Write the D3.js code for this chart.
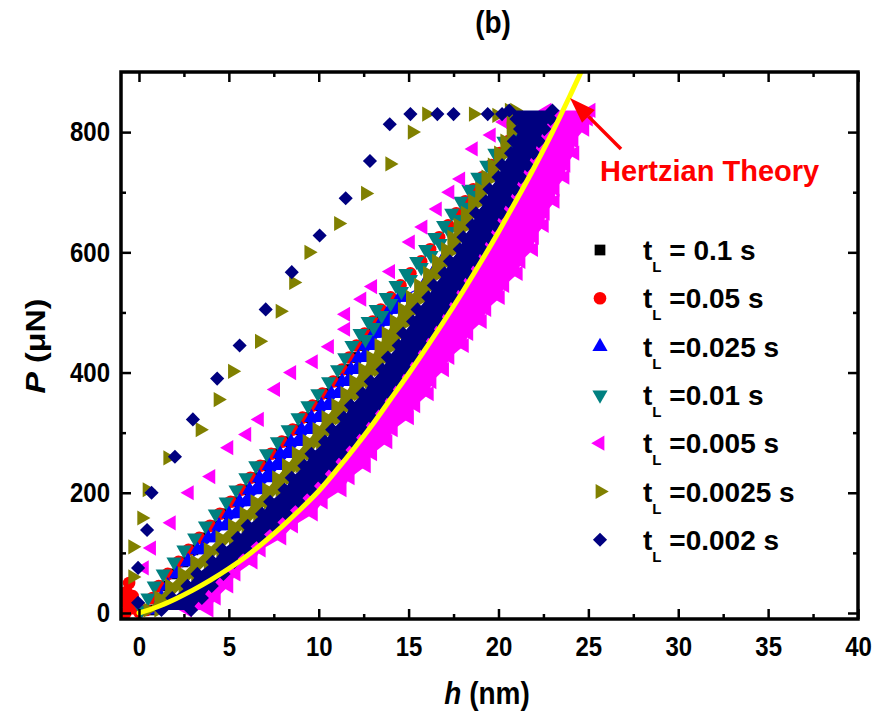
<!DOCTYPE html>
<html>
<head>
<meta charset="utf-8">
<script src="https://cdn.jsdelivr.net/npm/d3@7"></script>
<style>
  body { margin: 0; background: #fff; }
  svg { display: block; }
</style>
</head>
<body>
<svg id="chart" width="876" height="717"></svg>
<script>
// axes
const xTicks = [0, 5, 10, 15, 20, 25, 30, 35, 40];
const xMinor = [2.5, 7.5, 12.5, 17.5, 22.5, 27.5, 32.5, 37.5];
const yTicks = [0, 200, 400, 600, 800];
const yMinor = [100, 300, 500, 700];

// legend text after the "t_L"
const legendLabels = ['= 0.1 s', '=0.05 s', '=0.025 s', '=0.01 s', '=0.005 s', '=0.0025 s', '=0.002 s'];

// load levels (uN) of the dense rows
const rowP = [5, 25, 45, 65, 85, 105, 125, 145, 165, 185, 205, 225, 245, 265, 285, 305, 325, 345, 365, 385,
  405, 425, 445, 465, 485, 505, 525, 545, 565, 585, 605, 625, 645, 665, 685, 705, 725, 745, 765, 785, 805, 822, 836];

// depth h (nm) of each series at those rows
const blackFront = [0.65, 1.0, 1.35, 1.85, 2.45, 3.0, 3.6, 4.2, 4.75, 5.35, 5.9, 6.45, 7.0, 7.6, 8.2, 8.8, 9.35, 9.9,
  10.45, 11.05, 11.55, 11.95, 12.35, 12.8, 13.25];
const redFront = [0.4, 0.75, 1.1, 1.6, 2.2, 2.75, 3.35, 3.95, 4.5, 5.1, 5.65, 6.2, 6.75, 7.35, 7.95, 8.55, 9.1, 9.65,
  10.2, 10.8, 11.3, 11.7, 12.1, 12.55, 13.0, 13.45, 14.0, 14.55, 15.1, 15.7, 16.2, 16.7, 17.2, 17.65, 18.15, 18.6,
  19.1, 19.6, 20.05, 20.55, 21.0];
const blueLeft = [0.9, 1.25, 1.6, 2.1, 2.7, 3.25, 3.85, 4.45, 5.0, 5.6, 6.15, 6.7, 7.25, 7.85, 8.45, 9.05, 9.6, 10.15,
  10.7, 11.3, 11.8, 12.2, 12.6, 13.05, 13.5, 13.95, 14.5, 15.85, 16.35, 16.85, 17.35, 17.7, 18.05, 18.45, 18.85,
  19.25, 19.6, 19.95, 20.3, 20.65, 21.0];
const blueRight = [0.9, 1.25, 1.6, 2.1, 2.75, 3.5, 4.15, 4.85, 5.5, 6.1, 6.75, 7.3, 7.85, 8.4, 9.0, 9.55, 10.05, 10.6,
  11.1, 11.6, 12.1, 12.55, 13.0, 13.4, 13.85, 14.3, 14.75, 15.85, 16.35, 16.85, 17.35, 17.7, 18.05, 18.45, 18.85,
  19.25, 19.6, 19.95, 20.3, 20.65, 21.0];
const tealFront = [0.15, 0.5, 0.85, 1.35, 1.95, 2.5, 3.1, 3.7, 4.25, 4.85, 5.4, 5.95, 6.5, 7.1, 7.7, 8.3, 8.85, 9.4,
  9.95, 10.55, 11.05, 11.45, 11.85, 12.3, 12.75, 13.2, 13.75, 14.3, 14.85, 15.45, 15.95, 16.45, 16.95, 17.4, 17.9,
  18.35, 18.85, 19.35, 19.8, 20.3, 20.75];
const magentaLeft = [2.7, 3.3, 3.85, 4.5, 5.1, 5.8, 6.55, 7.3, 8.0, 8.7, 9.35, 9.95, 10.55, 11.1, 11.7, 12.25, 12.75,
  13.3, 13.75, 14.25, 14.7, 15.15, 15.6, 16.05, 16.5, 16.9, 17.3, 17.7, 18.1, 18.55, 18.9, 19.25, 19.6, 19.95, 20.35,
  20.7, 21.05, 21.4, 21.75, 22.05, 22.35, 22.6, 22.7];
const magentaRight = [3.9, 4.3, 5.0, 5.4, 6.35, 6.8, 7.95, 8.6, 9.7, 10.25, 11.3, 11.75, 12.65, 13.0, 13.85, 14.15,
  15.05, 15.4, 16.15, 16.3, 17.0, 17.3, 18.1, 18.35, 19.1, 19.35, 20.1, 20.35, 21.1, 21.25, 21.95, 22.0, 22.55, 22.6,
  23.15, 23.15, 23.7, 23.75, 24.25, 24.2, 24.8, 25.0, 25.15];
const oliveLeft = [0.5, 1.1, 1.7, 2.4, 3.1, 3.85, 4.5, 5.2, 5.85, 6.45, 7.1, 7.65, 8.2, 8.75, 9.35, 9.9, 10.4, 10.95,
  11.45, 11.95, 12.45, 12.9, 13.35, 13.75, 14.2, 14.65, 15.1, 15.55, 16.05, 16.55, 17.05, 17.4, 17.75, 18.15, 18.55,
  18.95, 19.3, 19.65, 20.0, 20.35, 20.7, 20.7, 20.6];
const oliveRight = [1.1, 1.75, 2.45, 3.15, 3.85, 4.55, 5.25, 5.95, 6.6, 7.2, 7.85, 8.4, 8.95, 9.5, 10.1, 10.65, 11.15,
  11.7, 12.2, 12.8, 13.3, 13.75, 14.2, 14.6, 15.0, 15.4, 15.85, 16.3, 16.75, 17.2, 17.6, 17.95, 18.3, 18.65, 19.05,
  19.4, 19.75, 20.1, 20.45, 20.75, 21.05, 21.0, 20.9];
const navyLeft = [1.25, 1.85, 2.7, 3.25, 4.1, 4.65, 5.5, 6.05, 6.85, 7.3, 8.1, 8.5, 9.2, 9.6, 10.35, 10.75, 11.4, 11.8,
  12.45, 12.9, 13.55, 13.85, 14.45, 14.7, 15.25, 15.5, 16.1, 16.4, 17.0, 17.3, 17.85, 18.05, 18.55, 18.75, 19.3, 19.5,
  20.0, 20.2, 20.7, 20.85, 21.2, 21.0, 20.6];
const navyRight = [2.9, 3.5, 4.05, 4.7, 5.3, 6.0, 6.75, 7.5, 8.2, 8.9, 9.55, 10.15, 10.75, 11.3, 11.9, 12.45, 12.95,
  13.5, 13.95, 14.45, 14.9, 15.35, 15.8, 16.25, 16.7, 17.1, 17.5, 17.9, 18.3, 18.75, 19.1, 19.45, 19.8, 20.15, 20.55,
  20.9, 21.25, 21.6, 21.95, 22.25, 22.55, 22.9, 23.0];

// sparse points [h, P]
const redStart = [[-0.75, 0], [-0.75, 18], [-0.7, 35], [-0.55, 50], [-0.4, 8], [-0.35, 28], [0.0, 2]];
const tealBack = [[12.6, 455], [13.05, 475], [13.5, 495], [14.0, 515], [14.6, 535], [15.1, 555], [15.7, 575],
  [16.25, 595], [16.75, 615], [17.25, 635], [17.75, 655], [18.2, 675], [18.7, 695], [19.15, 715], [19.65, 735],
  [20.1, 755], [20.6, 775], [21.05, 795], [21.3, 815]];
const magentaLoad = [[0.3, 75], [0.7, 108], [1.8, 150], [2.8, 200], [4.0, 227], [5.0, 275], [6.0, 297], [6.7, 322],
  [7.6, 372], [8.5, 400], [9.7, 418], [10.6, 443], [11.5, 472], [11.5, 497], [12.4, 522], [13.0, 543], [14.0, 568],
  [15.1, 617], [15.8, 642], [16.6, 672], [17.3, 700], [17.9, 722], [18.6, 772], [19.6, 795], [20.3, 817]];
const oliveLoad = [[-0.35, 60], [-0.35, 110], [0.15, 158], [0.45, 205], [1.6, 258], [3.4, 305], [4.4, 355],
  [5.2, 402], [6.7, 452], [7.85, 502], [8.6, 550], [9.45, 600], [11.1, 648], [12.6, 698], [13.95, 747], [15.2, 800]];
const oliveHold = [[16.0, 830], [18.6, 830], [19.9, 828]];
const navyLoad = [[-0.05, 17], [-0.05, 75], [0.45, 138], [0.7, 200], [2.0, 260], [3.0, 322], [4.35, 390], [5.6, 445],
  [7.05, 505], [8.5, 567], [10.05, 628], [11.5, 690], [12.85, 752], [13.95, 813]];
const navyHold = [[15.1, 830], [16.6, 830], [17.5, 830], [19.4, 830], [20.2, 830]];

// Hertzian theory curve
const hertzH = [0, 1, 2, 3, 4, 5, 6, 7, 8, 9, 10, 11, 12, 13, 14, 15, 16, 17, 18, 19, 20, 21, 22, 23, 24, 25];
const hertzP = [0, 10, 23, 38, 55, 74, 95, 119, 145, 173, 203, 238, 275, 314, 356, 398, 442, 487, 534, 583, 634,
  687, 742, 800, 862, 926];

// config
const config = {
  frame: { left: 121, right: 858, top: 72, bottom: 619 },
  font: '"Liberation Sans", Arial, Helvetica, sans-serif',
  stretch: 1.15, // the original figure is a little taller than wide
  color: {
    black: '#000000', red: '#ff0000', blue: '#0000ff', teal: '#008080',
    magenta: '#ff00ff', olive: '#808000', navy: '#000080', yellow: '#ffff00'
  },
  legend: { top: 250, step: 48.3, markerX: 600, textX: 643 }
};

const symbols = {
  square: { type: d3.symbolSquare, size: 115, angle: 0 },
  circle: { type: d3.symbolCircle, size: 125, angle: 0 },
  up: { type: d3.symbolTriangle, size: 100, angle: 0 },
  down: { type: d3.symbolTriangle, size: 100, angle: 180 },
  left: { type: d3.symbolTriangle, size: 100, angle: -90 },
  right: { type: d3.symbolTriangle, size: 100, angle: 90 },
  diamond: { type: d3.symbolSquare, size: 100, angle: 45 }
};

const series = [
  { color: config.color.black, shape: 'square' },
  { color: config.color.red, shape: 'circle' },
  { color: config.color.blue, shape: 'up' },
  { color: config.color.teal, shape: 'down' },
  { color: config.color.magenta, shape: 'left' },
  { color: config.color.olive, shape: 'right' },
  { color: config.color.navy, shape: 'diamond' }
];

const f = config.frame;
const svg = d3.select('#chart');
const x = d3.scaleLinear().domain([-1, 40]).range([f.left, f.right]);
const y = d3.scaleLinear().domain([-10, 900]).range([f.bottom, f.top]);

svg.append('defs').append('clipPath').attr('id', 'plot-clip')
  .append('rect')
  .attr('x', f.left).attr('y', f.top)
  .attr('width', f.right - f.left).attr('height', f.bottom - f.top);

const plot = svg.append('g').attr('clip-path', 'url(#plot-clip)');

function markerPath(shape) {
  return d3.symbol().type(symbols[shape].type).size(symbols[shape].size)();
}

function drawMarkers(pts, s) {
  plot.append('g').selectAll('path')
    .data(pts)
    .join('path')
    .attr('d', markerPath(s.shape))
    .attr('transform', d => `translate(${x(d[0])},${y(d[1])}) rotate(${symbols[s.shape].angle})`)
    .attr('fill', s.color);
}

function rowPoints(hs) {
  return hs.map((h, i) => [h, rowP[i]]);
}

// dense point cloud: the band between two edge rows, with the edge points on top
function drawBand(left, right, s) {
  const rows = left.map((l, i) => ({ P: rowP[i], l: l, r: right[i] }));
  plot.append('path')
    .datum(rows)
    .attr('d', d3.area().y(d => y(d.P)).x0(d => x(d.l)).x1(d => x(d.r)))
    .attr('fill', s.color);
  drawMarkers(rows.flatMap(d => [[d.l, d.P], [d.r, d.P]]), s);
}

// draw the series in legend order
drawMarkers(rowPoints(blackFront), series[0]);
drawMarkers(rowPoints(redFront).concat(redStart), series[1]);
drawBand(blueLeft, blueRight, series[2]);
drawMarkers(rowPoints(tealFront).concat(tealBack), series[3]);
drawBand(magentaLeft, magentaRight, series[4]);
drawMarkers(magentaLoad, series[4]);
drawBand(oliveLeft, oliveRight, series[5]);
drawMarkers(oliveLoad.concat(oliveHold), series[5]);
drawBand(navyLeft, navyRight, series[6]);
drawMarkers(navyLoad.concat(navyHold), series[6]);

// Hertzian theory line
plot.append('path')
  .datum(hertzH.map((h, i) => [h, hertzP[i]]))
  .attr('d', d3.line().x(d => x(d[0])).y(d => y(d[1])).curve(d3.curveMonotoneX))
  .attr('fill', 'none')
  .attr('stroke', config.color.yellow)
  .attr('stroke-width', 5)
  .attr('stroke-linecap', 'round');

// axes
function styleAxis(g) {
  g.select('.domain').remove();
  g.selectAll('line').attr('stroke', '#000').attr('stroke-width', 2.5);
  g.selectAll('text')
    .attr('fill', '#000')
    .attr('font-family', config.font)
    .attr('font-weight', 'bold')
    .attr('font-size', 24)
    .attr('transform', `scale(1,${config.stretch})`);
}

svg.append('g').attr('transform', `translate(0,${f.bottom})`)
  .call(d3.axisBottom(x).tickValues(xTicks).tickSize(-10).tickPadding(15).tickFormat(d3.format('d')))
  .call(styleAxis);
svg.append('g').attr('transform', `translate(0,${f.bottom})`)
  .call(d3.axisBottom(x).tickValues(xMinor).tickSize(-5).tickFormat(''))
  .call(styleAxis);
svg.append('g').attr('transform', `translate(0,${f.top})`)
  .call(d3.axisTop(x).tickValues(xTicks).tickSize(-10).tickFormat(''))
  .call(styleAxis);
svg.append('g').attr('transform', `translate(0,${f.top})`)
  .call(d3.axisTop(x).tickValues(xMinor).tickSize(-5).tickFormat(''))
  .call(styleAxis);
svg.append('g').attr('transform', `translate(${f.left},0)`)
  .call(d3.axisLeft(y).tickValues(yTicks).tickSize(-10).tickPadding(11).tickFormat(d3.format('d')))
  .call(styleAxis);
svg.append('g').attr('transform', `translate(${f.left},0)`)
  .call(d3.axisLeft(y).tickValues(yMinor).tickSize(-5).tickFormat(''))
  .call(styleAxis);
svg.append('g').attr('transform', `translate(${f.right},0)`)
  .call(d3.axisRight(y).tickValues(yTicks).tickSize(-10).tickFormat(''))
  .call(styleAxis);
svg.append('g').attr('transform', `translate(${f.right},0)`)
  .call(d3.axisRight(y).tickValues(yMinor).tickSize(-5).tickFormat(''))
  .call(styleAxis);

svg.append('rect')
  .attr('x', f.left).attr('y', f.top)
  .attr('width', f.right - f.left).attr('height', f.bottom - f.top)
  .attr('fill', 'none')
  .attr('stroke', '#000')
  .attr('stroke-width', 3.5);

// titles
const texts = svg.append('g')
  .attr('font-family', config.font)
  .attr('font-weight', 'bold')
  .attr('fill', '#000')
  .style('white-space', 'pre');

texts.append('text')
  .attr('transform', `translate(493,33) scale(1,${config.stretch})`)
  .attr('text-anchor', 'middle')
  .attr('font-size', 28)
  .text('(b)');

const xTitle = texts.append('text')
  .attr('transform', `translate(487,704) scale(1,${config.stretch})`)
  .attr('text-anchor', 'middle')
  .attr('font-size', 28);
xTitle.append('tspan').attr('font-style', 'italic').text('h');
xTitle.append('tspan').text(' (nm)');

const yTitle = texts.append('text')
  .attr('transform', `translate(45,346) rotate(-90) scale(${config.stretch},1)`)
  .attr('text-anchor', 'middle')
  .attr('font-size', 28);
yTitle.append('tspan').attr('font-style', 'italic').text('P');
yTitle.append('tspan').text(' (\u03bcN)');

// Hertzian annotation
const ann = svg.append('g');
const tip = [570, 98], tail = [621, 149];
const len = Math.hypot(tail[0] - tip[0], tail[1] - tip[1]);
const ux = (tail[0] - tip[0]) / len, uy = (tail[1] - tip[1]) / len;
const headLen = 26, headHalf = 9;
const base = [tip[0] + ux * headLen, tip[1] + uy * headLen];
ann.append('line')
  .attr('x1', tail[0]).attr('y1', tail[1])
  .attr('x2', base[0]).attr('y2', base[1])
  .attr('stroke', config.color.red)
  .attr('stroke-width', 3.5);
ann.append('path')
  .attr('d', `M${tip[0]},${tip[1]}L${base[0] - uy * headHalf},${base[1] + ux * headHalf}L${base[0] + uy * headHalf},${base[1] - ux * headHalf}Z`)
  .attr('fill', config.color.red);
texts.append('text')
  .attr('x', 600).attr('y', 181)
  .attr('font-size', 29)
  .attr('fill', config.color.red)
  .text('Hertzian Theory');

// legend
const legend = svg.append('g');
legendLabels.forEach((label, i) => {
  const cy = config.legend.top + i * config.legend.step;
  const s = series[i];
  legend.append('path')
    .attr('d', markerPath(s.shape))
    .attr('transform', `translate(${config.legend.markerX},${cy}) rotate(${symbols[s.shape].angle})`)
    .attr('fill', s.color);
  const t = texts.append('text')
    .attr('x', config.legend.textX).attr('y', cy + 10)
    .attr('font-size', 28);
  t.append('tspan').text('t');
  t.append('tspan').attr('font-size', 15).attr('dy', 12).text('L');
  t.append('tspan').attr('dy', -12).text(' ' + label);
});
</script>
</body>
</html>
